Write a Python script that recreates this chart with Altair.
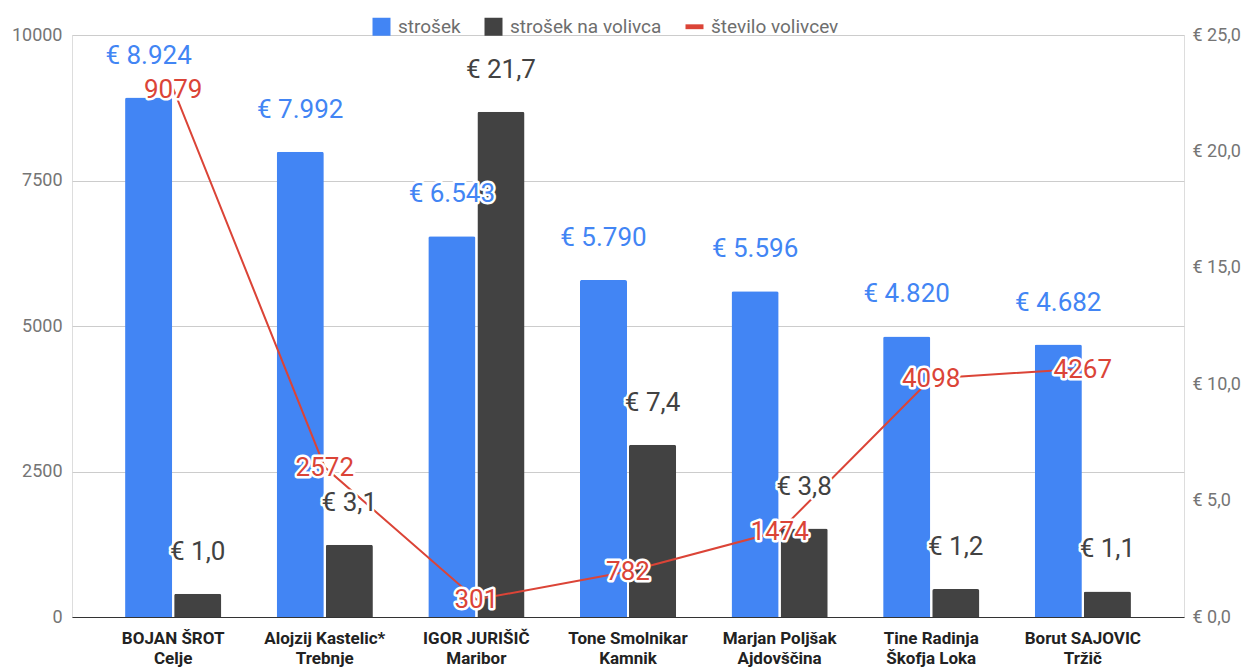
import altair as alt
import pandas as pd

kandidati = [
    "BOJAN ŠROT\nCelje",
    "Alojzij Kastelic*\nTrebnje",
    "IGOR JURIŠIČ\nMaribor",
    "Tone Smolnikar\nKamnik",
    "Marjan Poljšak\nAjdovščina",
    "Tine Radinja\nŠkofja Loka",
    "Borut SAJOVIC\nTržič",
]
strosek = [8924, 7992, 6543, 5790, 5596, 4820, 4682]
strosek_na_volivca = [1.0, 3.1, 21.7, 7.4, 3.8, 1.2, 1.1]
stevilo_volivcev = [9079, 2572, 301, 782, 1474, 4098, 4267]

serije = ["strošek", "strošek na volivca", "število volivcev"]
barve = ["#4285f4", "#424242", "#db4437"]

df = pd.DataFrame({
    "kandidat": kandidati,
    "strosek": strosek,
    "na_volivca": strosek_na_volivca,
    "volivci": stevilo_volivcev,
})
df["lbl_strosek"] = ["€ " + f"{v:,}".replace(",", ".") for v in strosek]
df["lbl_na"] = ["€ " + f"{v:.1f}".replace(".", ",") for v in strosek_na_volivca]
df["lbl_vol"] = [str(v) for v in stevilo_volivcev]

FONT = "Roboto"
LEFT_DOM = [0, 10000]
RIGHT_DOM = [0, 25]

x_enc = alt.X(
    "kandidat:N", sort=None,
    scale=alt.Scale(paddingInner=0.3655, paddingOuter=0.35),
    axis=alt.Axis(
        title=None, labelAngle=0, labelExpr="split(datum.label, '\\n')",
        labelFont=FONT, labelFontSize=17, labelFontWeight="bold", labelColor="#222222",
        labelLineHeight=20, labelPadding=13, ticks=False, domainColor="#333333",
        domainWidth=1, grid=False,
    ),
)
xoff = alt.XOffset("serija:N", scale=alt.Scale(domain=serije[:2], paddingInner=0.04, paddingOuter=0))

color_enc = alt.Color(
    "serija:N",
    scale=alt.Scale(domain=serije, range=barve),
    legend=alt.Legend(
        title=None, orient="none", legendX=300, legendY=-18, direction="horizontal",
        symbolType={"expr": "datum.value == 'število volivcev' ? 'M-1,-0.27H1V0.27H-1Z' : 'square'"},
        symbolSize=324, symbolStrokeWidth=0, labelFont=FONT, labelFontSize=19,
        labelColor="#6e6e6e", labelOffset=7, columnPadding=23, symbolOpacity=1,
    ),
)

base = alt.Chart(df)

blue_bars = base.mark_bar(cornerRadiusTopLeft=2, cornerRadiusTopRight=2).transform_calculate(
    serija="'strošek'"
).encode(
    x=x_enc, xOffset=xoff,
    y=alt.Y("strosek:Q", scale=alt.Scale(domain=LEFT_DOM),
            axis=alt.Axis(orient="left", title=None, values=[0, 2500, 5000, 7500, 10000], format="d",
                          grid=True, gridColor="#cccccc", domain=False, ticks=False,
                          labelFont=FONT, labelFontSize=18, labelColor="#757575", labelPadding=10)),
    color=color_enc,
)

dark_bars = base.mark_bar(cornerRadiusTopLeft=2, cornerRadiusTopRight=2).transform_calculate(
    serija="'strošek na volivca'"
).encode(
    x=x_enc, xOffset=xoff,
    y=alt.Y("na_volivca:Q", scale=alt.Scale(domain=RIGHT_DOM),
            axis=alt.Axis(orient="right", title=None, values=[0, 5, 10, 15, 20, 25],
                          labelExpr="'€ ' + replace(format(datum.value, '.1f'), '.', ',')",
                          grid=False, domain=False, ticks=False,
                          labelFont=FONT, labelFontSize=18, labelColor="#757575", labelPadding=8)),
    color=color_enc,
)

line = base.mark_line(strokeWidth=2).transform_calculate(
    serija="'število volivcev'"
).encode(
    x=x_enc,
    y=alt.Y("volivci:Q", scale=alt.Scale(domain=LEFT_DOM), axis=None),
    color=color_enc,
)


def labels(yfield, dom, textfield, serija, col, dy, baseline, offset=True):
    enc = dict(
        x=x_enc,
        y=alt.Y(yfield, scale=alt.Scale(domain=dom), axis=None),
        text=alt.Text(textfield),
    )
    if offset:
        enc["xOffset"] = xoff
    b = base.transform_calculate(serija="'" + serija + "'").encode(**enc)
    halo = b.mark_text(font=FONT, fontSize=26, dy=dy, baseline=baseline, fill="white",
                       stroke="white", strokeWidth=5, strokeJoin="round")
    txt = b.mark_text(font=FONT, fontSize=26, dy=dy, baseline=baseline, color=col)
    return [halo, txt]


layers = [blue_bars, dark_bars, line]
layers += labels("strosek:Q", LEFT_DOM, "lbl_strosek", "strošek", barve[0], -34, "alphabetic")
layers += labels("na_volivca:Q", RIGHT_DOM, "lbl_na", "strošek na volivca", barve[1], -34, "alphabetic")
layers += labels("volivci:Q", LEFT_DOM, "lbl_vol", "število volivcev", barve[2], 1, "middle", offset=False)

chart = alt.layer(*layers).resolve_scale(y="independent").properties(
    width=1112, height=582,
    autosize=alt.AutoSizeParams(type="none"),
    padding={"left": 72, "top": 35, "right": 62, "bottom": 53},
).configure_view(stroke=None).configure(font=FONT)

chart.save("out.html", embed_options={"renderer": "svg", "actions": False})
